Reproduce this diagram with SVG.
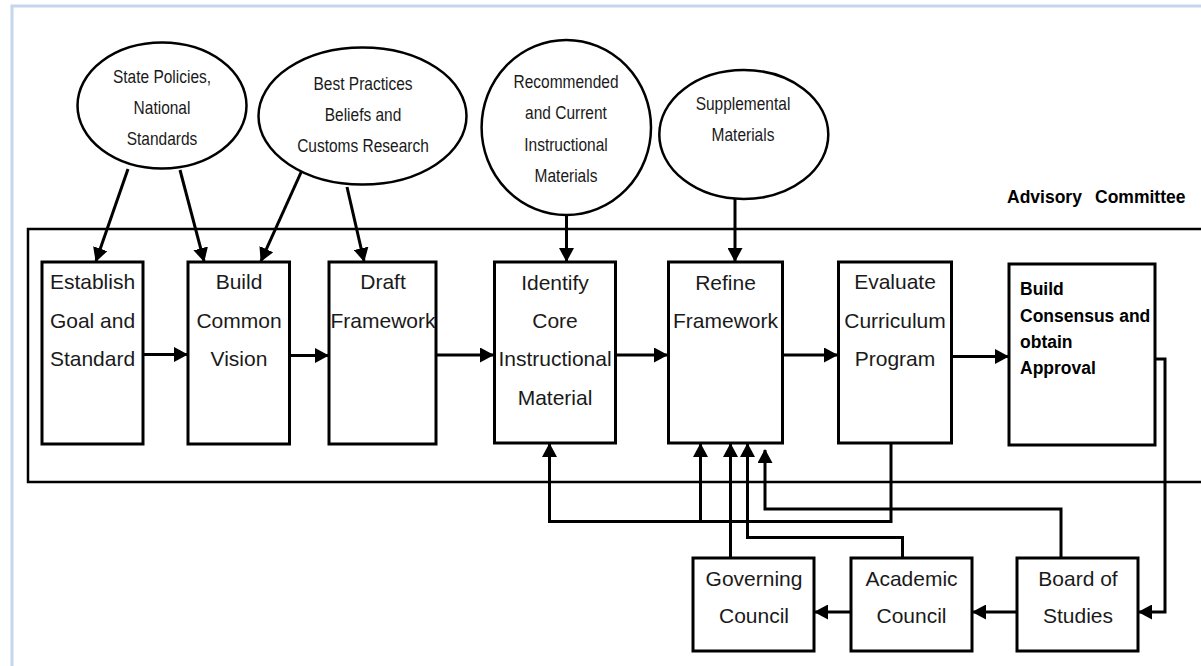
<svg xmlns="http://www.w3.org/2000/svg" width="1201" height="666" viewBox="0 0 1201 666">
<defs>
<marker id="ah" markerUnits="userSpaceOnUse" markerWidth="14" markerHeight="15" refX="13" refY="7.5" orient="auto">
<path d="M0,0 L14,7.5 L0,15 z" fill="#000"/>
</marker>
<style>
.box{fill:#fff;stroke:#000;stroke-width:3}
.ell{fill:#fff;stroke:#000;stroke-width:2.5}
.ln{fill:none;stroke:#000;stroke-width:3}
.ar{fill:none;stroke:#000;stroke-width:3;marker-end:url(#ah)}
.t{font-family:"Liberation Sans",Arial,sans-serif;font-size:21px;fill:#1a1a1a;text-anchor:middle}
.te{font-family:"Liberation Sans",Arial,sans-serif;font-size:15.5px;fill:#1a1a1a;text-anchor:middle}
.tb{font-family:"Liberation Sans",Arial,sans-serif;font-size:17.5px;font-weight:bold;fill:#000}
</style>
</defs>
<rect width="1201" height="666" fill="#fff"/>
<path d="M12,666 V6 H1201" fill="none" stroke="#c5d6ec" stroke-width="3"/>
<g id="advisory">
<path d="M1201,229 H28 V482 H1201" fill="none" stroke="#000" stroke-width="2.5"/>
<text class="tb" x="1007" y="203">Advisory</text>
<text class="tb" x="1095" y="203">Committee</text>
</g>
<g id="connectors">
<line class="ar" x1="128" y1="169" x2="96" y2="261"/>
<line class="ar" x1="180" y1="170" x2="204" y2="261"/>
<line class="ar" x1="303" y1="168" x2="261" y2="261"/>
<line class="ar" x1="347" y1="187" x2="364" y2="261"/>
<line class="ar" x1="566.5" y1="215" x2="566.5" y2="261"/>
<line class="ar" x1="735" y1="199" x2="735" y2="261"/>
<line class="ar" x1="143" y1="354.5" x2="187" y2="354.5"/>
<line class="ar" x1="290" y1="355.5" x2="328" y2="355.5"/>
<line class="ar" x1="436" y1="355" x2="493" y2="355"/>
<line class="ar" x1="616" y1="355" x2="667" y2="355"/>
<line class="ar" x1="782" y1="355" x2="837" y2="355"/>
<line class="ar" x1="952" y1="356.5" x2="1008" y2="356.5"/>
<path class="ar" d="M891,443 V521.5 H549.5 V444"/>
<path class="ar" d="M700.5,521.5 V444"/>
<path class="ar" d="M730.5,557 V444"/>
<path class="ar" d="M902.5,557 V537.5 H747.5 V444"/>
<path class="ar" d="M1061,557 V509 H765 V450"/>
<path class="ar" d="M1155,359 H1165 V612 H1139"/>
<line class="ar" x1="1017" y1="612" x2="973" y2="612"/>
<line class="ar" x1="851" y1="612" x2="815" y2="612"/>
</g>
<g id="n-state">
<ellipse class="ell" cx="162" cy="105.5" rx="84.5" ry="63"/>
<text class="te" transform="translate(162,83) scale(1,1.15)">State Policies,</text>
<text class="te" transform="translate(162,114) scale(1,1.15)">National</text>
<text class="te" transform="translate(162,145) scale(1,1.15)">Standards</text>
</g>
<g id="n-best">
<ellipse class="ell" cx="362.5" cy="116" rx="104" ry="68.5"/>
<text class="te" transform="translate(363,90) scale(1,1.15)">Best Practices</text>
<text class="te" transform="translate(363,121) scale(1,1.15)">Beliefs and</text>
<text class="te" transform="translate(363,152) scale(1,1.15)">Customs Research</text>
</g>
<g id="n-recommended">
<ellipse class="ell" cx="566.3" cy="127.5" rx="84.7" ry="87.5"/>
<text class="te" transform="translate(566,88) scale(1,1.15)">Recommended</text>
<text class="te" transform="translate(566,119) scale(1,1.15)">and Current</text>
<text class="te" transform="translate(566,151) scale(1,1.15)">Instructional</text>
<text class="te" transform="translate(566,182) scale(1,1.15)">Materials</text>
</g>
<g id="n-supplemental">
<ellipse class="ell" cx="743.8" cy="134.5" rx="84.5" ry="64.5"/>
<text class="te" transform="translate(743,110) scale(1,1.15)">Supplemental</text>
<text class="te" transform="translate(743,141) scale(1,1.15)">Materials</text>
</g>
<g id="n-establish">
<rect class="box" x="42" y="262" width="101" height="182"/>
<text class="t" x="92.5" y="289">Establish</text>
<text class="t" x="92.5" y="328">Goal and</text>
<text class="t" x="92.5" y="366">Standard</text>
</g>
<g id="n-vision">
<rect class="box" x="188" y="262" width="101.5" height="182"/>
<text class="t" x="239" y="289">Build</text>
<text class="t" x="239" y="328">Common</text>
<text class="t" x="239" y="366">Vision</text>
</g>
<g id="n-draft">
<rect class="box" x="329" y="262" width="107" height="182"/>
<text class="t" x="383" y="289">Draft</text>
<text class="t" x="383" y="328">Framework</text>
</g>
<g id="n-identify">
<rect class="box" x="494.5" y="262" width="121" height="181"/>
<text class="t" x="555" y="290">Identify</text>
<text class="t" x="555" y="328">Core</text>
<text class="t" x="555" y="366">Instructional</text>
<text class="t" x="555" y="405">Material</text>
</g>
<g id="n-refine">
<rect class="box" x="668.5" y="262" width="114" height="181"/>
<text class="t" x="725.5" y="290">Refine</text>
<text class="t" x="725.5" y="328">Framework</text>
</g>
<g id="n-evaluate">
<rect class="box" x="838.5" y="262" width="113" height="181"/>
<text class="t" x="895" y="289">Evaluate</text>
<text class="t" x="895" y="328">Curriculum</text>
<text class="t" x="895" y="366">Program</text>
</g>
<g id="n-consensus">
<rect class="box" x="1009" y="264" width="146" height="181"/>
<text class="tb" x="1020" y="295">Build</text>
<text class="tb" x="1020" y="322">Consensus and</text>
<text class="tb" x="1020" y="348">obtain</text>
<text class="tb" x="1020" y="374">Approval</text>
</g>
<g id="n-governing">
<rect class="box" x="693" y="558" width="121" height="93"/>
<text class="t" x="754" y="586">Governing</text>
<text class="t" x="754" y="623">Council</text>
</g>
<g id="n-academic">
<rect class="box" x="851" y="558" width="121" height="93"/>
<text class="t" x="911.5" y="586">Academic</text>
<text class="t" x="911.5" y="623">Council</text>
</g>
<g id="n-board">
<rect class="box" x="1017" y="558" width="121" height="93"/>
<text class="t" x="1078" y="586">Board of</text>
<text class="t" x="1078" y="623">Studies</text>
</g>
</svg>
